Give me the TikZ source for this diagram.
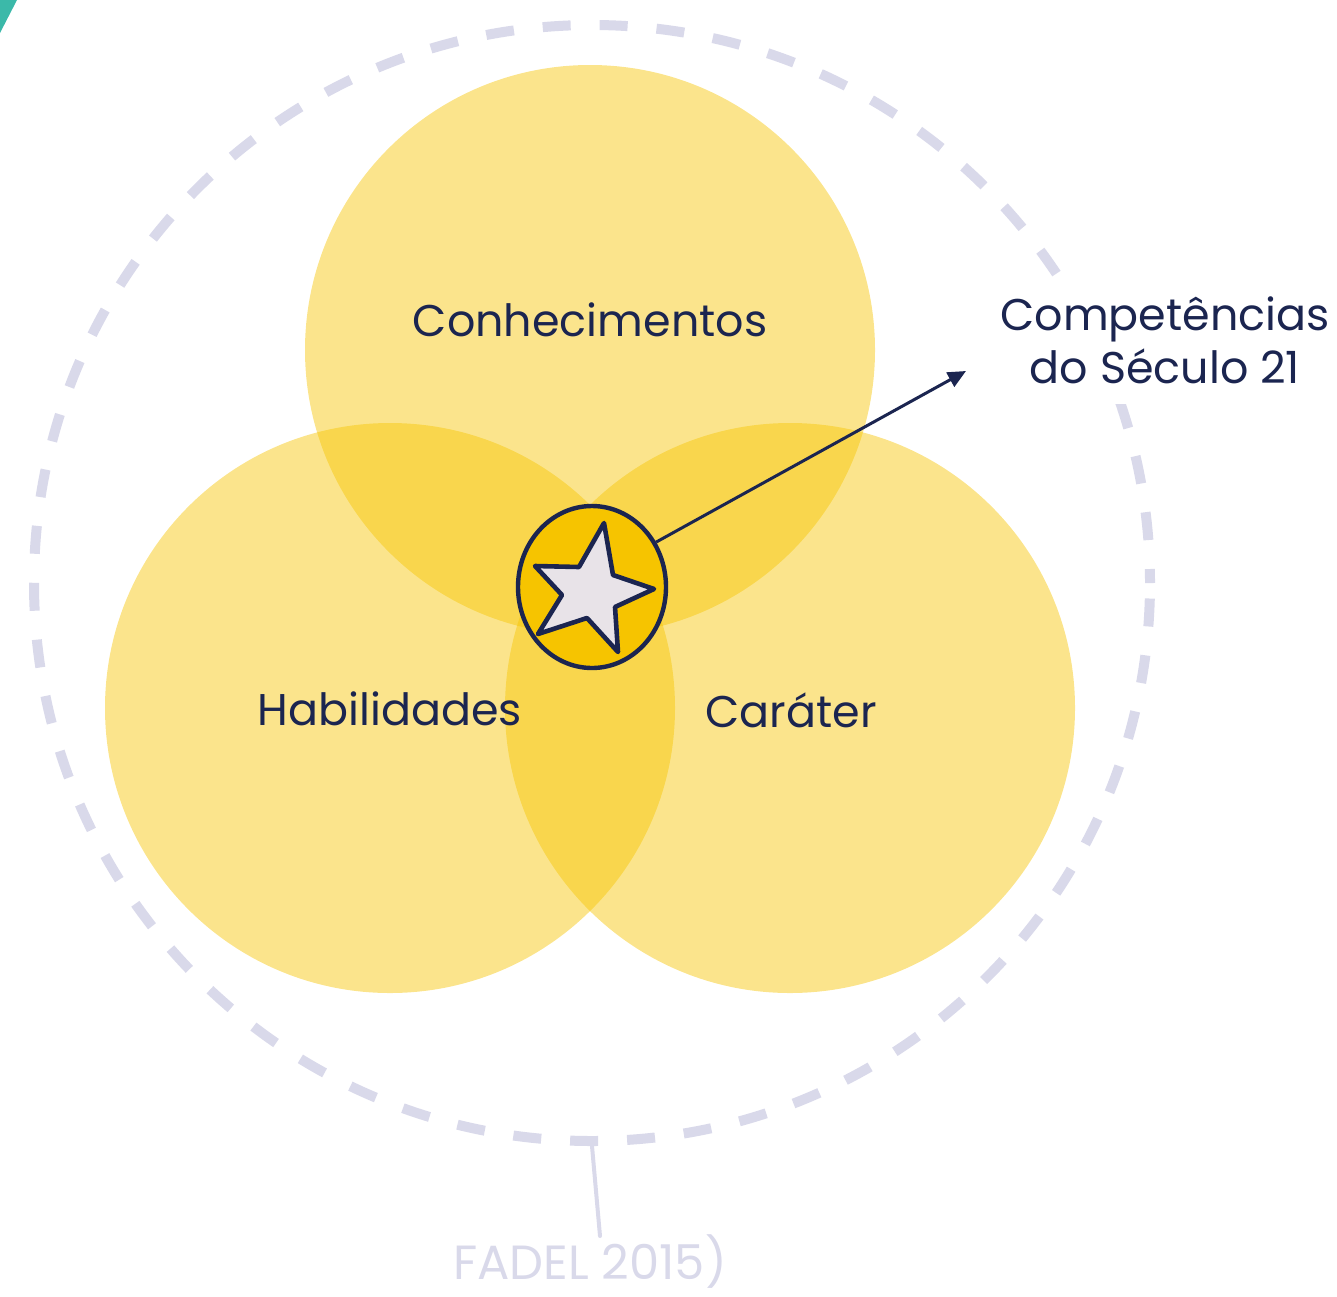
\documentclass[tikz,border=0pt]{standalone}
\usepackage{fontspec}
\setmainfont{Poppins}
\usetikzlibrary{shapes.geometric,arrows.meta}
\definecolor{navy}{HTML}{1B2550}
\definecolor{ylw}{RGB}{246,196,0}
\definecolor{lav}{HTML}{D9D9EA}
\definecolor{teal}{HTML}{3BB9A9}
\definecolor{starfill}{HTML}{E8E3E8}
\tikzset{
  venn/.style={fill=ylw,fill opacity=0.45,draw=none},
  lbl/.style={text=navy,font=\fontsize{22.2}{27}\selectfont,inner sep=0pt},
}
\begin{document}
\begin{tikzpicture}[x=0.5pt,y=-0.5pt]
\useasboundingbox (0,0) rectangle (1337,1296);
\fill[teal] (0,0) -- (17,0) -- (0,33) -- cycle;
% outer dashed circle
\node[circle,draw=lav,line width=5pt,dash pattern=on 14pt off 14.5pt,dash phase=7pt,minimum size=558pt,inner sep=0pt] (outer) at (592,583) {};
% venn circles
\fill[venn] (590,350) circle[radius=142.5pt];
\fill[venn] (390,708) circle[radius=142.5pt];
\fill[venn] (790,708) circle[radius=142.5pt];
\node[lbl] (con) at (590,320) {Conhecimentos};
\node[lbl] (hab) at (390,709) {Habilidades};
\node[lbl] (car) at (791,710) {Caráter};
% label for competencies
\node[fill=white,inner sep=0pt,minimum width=170pt,minimum height=62pt] (cbox) at (1166,342) {};
\node[lbl,align=center,font=\fontsize{22.2}{26.5}\selectfont] (comp) at (1165,340) {Competências\\do Século 21};
% star ellipse
\node[ellipse,draw=navy,fill=ylw,line width=2.2pt,minimum width=74pt,minimum height=81pt,inner sep=0pt] (ell) at (592,587) {};
\filldraw[fill=starfill,draw=navy,line width=2.3pt,line join=round]
  (604,523) -- (613,575) -- (654,589) -- (615,607) -- (618,652) -- (587,618)
  -- (538,634) -- (562,595) -- (535,566) -- (579,567) -- cycle;
\coordinate (tip) at (966,371);
\draw[navy,line width=1.5pt,-{Triangle[length=9pt,width=8pt]}] (ell.35) -- (tip);
% source
\node[text=lav,font=\fontsize{24}{29}\selectfont,inner sep=0pt,anchor=base] (src) at (590,1279) {FADEL 2015)};
\coordinate (srctop) at (600,1236);
\draw[lav,line width=2pt,line cap=round] (outer.south) -- (srctop);
\end{tikzpicture}
\end{document}
